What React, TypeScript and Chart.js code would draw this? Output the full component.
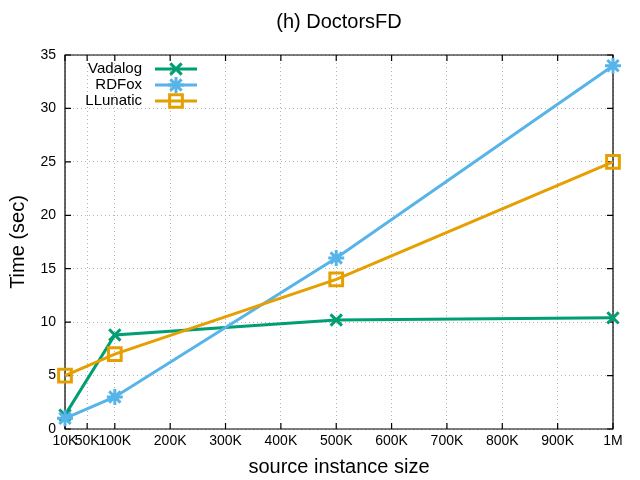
import React, { useEffect, useRef } from "react";
import { Chart, registerables } from "chart.js";

Chart.register(...registerables);

const sizes = [10000, 100000, 500000, 1000000];
const vadalog = [1.3, 8.8, 10.2, 10.4];
const rdfox = [1.0, 3.0, 16.0, 34.0];
const llunatic = [5.0, 7.0, 14.0, 25.0];

const seriesNames = ["Vadalog", "RDFox", "LLunatic"];
const seriesColors = ["#009e73", "#56b4e9", "#e69f00"];
const seriesStyles = ["crossRot", "star", "rect"];

const xTickValues = [10000, 50000, 100000, 200000, 300000, 400000, 500000, 600000, 700000, 800000, 900000, 1000000];
const xTickLabels = ["10K", "50K", "100K", "200K", "300K", "400K", "500K", "600K", "700K", "800K", "900K", "1M"];
const yTickValues = [0, 5, 10, 15, 20, 25, 30, 35];

const chartTitle = "(h) DoctorsFD";
const xTitle = "source instance size";
const yTitle = "Time (sec)";

const FONT = '"Liberation Sans", Arial, Helvetica, sans-serif';

function drawMarker(ctx: CanvasRenderingContext2D, style: string, x: number, y: number, r: number) {
  ctx.beginPath();
  if (style === "rect") {
    const s = Math.SQRT1_2 * r;
    ctx.rect(x - s, y - s, 2 * s, 2 * s);
  } else {
    const o = Math.SQRT1_2 * r;
    ctx.moveTo(x - o, y - o);
    ctx.lineTo(x + o, y + o);
    ctx.moveTo(x - o, y + o);
    ctx.lineTo(x + o, y - o);
    if (style === "star") {
      ctx.moveTo(x - r, y);
      ctx.lineTo(x + r, y);
      ctx.moveTo(x, y - r);
      ctx.lineTo(x, y + r);
    }
  }
  ctx.stroke();
}

const framePlugin = {
  id: "gnuFrame",
  beforeDatasetsDraw(chart: any) {
    const { ctx, chartArea } = chart;
    const { left, right, top, bottom } = chartArea;
    ctx.save();
    ctx.strokeStyle = "#000";
    ctx.lineWidth = 1.2;
    ctx.beginPath();
    ctx.rect(left, top, right - left, bottom - top);
    ctx.stroke();
    const xs = chart.scales.x;
    const ys = chart.scales.y;
    const tl = 6;
    ctx.beginPath();
    xTickValues.forEach((v) => {
      const px = xs.getPixelForValue(v);
      ctx.moveTo(px, bottom);
      ctx.lineTo(px, bottom - tl);
      ctx.moveTo(px, top);
      ctx.lineTo(px, top + tl);
    });
    yTickValues.forEach((v) => {
      const py = ys.getPixelForValue(v);
      ctx.moveTo(left, py);
      ctx.lineTo(left + tl, py);
      ctx.moveTo(right, py);
      ctx.lineTo(right - tl, py);
    });
    ctx.stroke();
    ctx.restore();
  },
  afterDraw(chart: any) {
    const { ctx, chartArea } = chart;
    const cx = (chartArea.left + chartArea.right) / 2;
    ctx.save();
    ctx.fillStyle = "#000";
    ctx.textAlign = "center";
    ctx.textBaseline = "middle";
    ctx.font = `20px ${FONT}`;
    ctx.fillText(chartTitle, cx, 22);
    ctx.fillText(xTitle, cx, 467);
    ctx.save();
    ctx.translate(18, (chartArea.top + chartArea.bottom) / 2);
    ctx.rotate(-Math.PI / 2);
    ctx.fillText(yTitle, 0, 0);
    ctx.restore();

    // legend
    ctx.font = `15px ${FONT}`;
    ctx.textAlign = "right";
    seriesNames.forEach((name, i) => {
      const y = 69 + i * 16;
      ctx.fillStyle = "#000";
      ctx.fillText(name, 142, y);
      ctx.strokeStyle = seriesColors[i];
      ctx.lineWidth = 3;
      ctx.beginPath();
      ctx.moveTo(155, y);
      ctx.lineTo(197, y);
      ctx.stroke();
      drawMarker(ctx, seriesStyles[i], 176, y, seriesStyles[i] === "rect" ? 9 : 8);
    });
    ctx.restore();
  },
};

export default function App() {
  const canvasRef = useRef<HTMLCanvasElement | null>(null);

  useEffect(() => {
    const canvas = canvasRef.current;
    if (!canvas) return;
    const seriesValues = [vadalog, rdfox, llunatic];
    const chart = new Chart(canvas, {
      type: "line",
      data: {
        datasets: seriesNames.map((name, i) => ({
          label: name,
          data: sizes.map((x, j) => ({ x, y: seriesValues[i][j] })),
          borderColor: seriesColors[i],
          backgroundColor: "rgba(0,0,0,0)",
          borderWidth: 3,
          pointStyle: seriesStyles[i] as any,
          pointRadius: seriesStyles[i] === "rect" ? 9 : 8,
          pointBorderWidth: 3,
          pointBorderColor: seriesColors[i],
          pointBackgroundColor: "rgba(0,0,0,0)",
          tension: 0,
          order: 2 - i,
          clip: false as any,
        })),
      },
      options: {
        responsive: false,
        animation: false,
        layout: { padding: { left: 0, right: 27, top: 55, bottom: 0 } },
        plugins: {
          legend: { display: false },
          title: { display: false },
          tooltip: { enabled: false },
        },
        scales: {
          x: {
            type: "linear",
            min: 10000,
            max: 1000000,
            afterBuildTicks: (s: any) => {
              s.ticks = xTickValues.map((v) => ({ value: v }));
            },
            afterFit: (s: any) => {
              s.height = 51;
            },
            ticks: {
              autoSkip: false,
              maxRotation: 0,
              minRotation: 0,
              padding: 4,
              color: "#000",
              font: { family: FONT, size: 14 },
              callback: (v: any) => {
                const idx = xTickValues.indexOf(Number(v));
                return idx >= 0 ? xTickLabels[idx] : "";
              },
            },
            grid: { color: "#b4b4b4", lineWidth: 1, drawTicks: false },
            border: { display: false, dash: [1, 3] },
          },
          y: {
            type: "linear",
            min: 0,
            max: 35,
            afterBuildTicks: (s: any) => {
              s.ticks = yTickValues.map((v) => ({ value: v }));
            },
            afterFit: (s: any) => {
              s.width = 65;
            },
            ticks: {
              padding: 9,
              color: "#000",
              font: { family: FONT, size: 14 },
            },
            grid: { color: "#b4b4b4", lineWidth: 1, drawTicks: false },
            border: { display: false, dash: [1, 3] },
          },
        },
      },
      plugins: [framePlugin],
    });
    return () => chart.destroy();
  }, []);

  return (
    <div style={{ position: "fixed", left: 0, top: 0, width: 640, height: 480, background: "#fff" }}>
      <canvas ref={canvasRef} width={640} height={480} style={{ width: 640, height: 480 }} />
    </div>
  );
}
